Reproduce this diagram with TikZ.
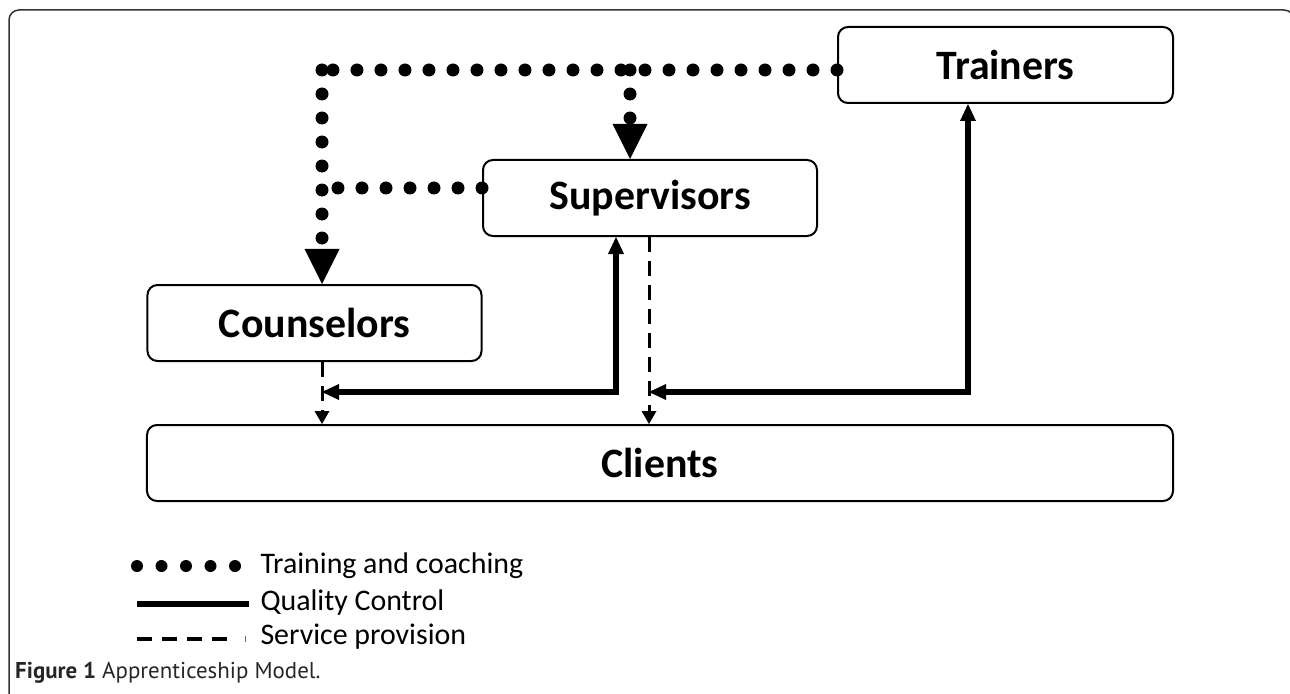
\documentclass[tikz,border=0pt]{standalone}
\usepackage{fontspec}
\setmainfont{Carlito}
\newfontfamily\capfont{PT Sans}
\usetikzlibrary{arrows.meta}
\begin{document}
\begin{tikzpicture}[x=1bp,y=-1bp,
 box/.style={draw=black,line width=2bp,rounded corners=10bp,inner sep=0pt,
   font=\fontsize{42}{50}\selectfont\bfseries},
 dotline/.style={line width=13bp,line cap=round,dash pattern=on 0bp off 24bp},
 bigtip/.style={-{Triangle[width=35bp,length=35bp,line width=0pt]}},
 qc/.style={line width=6bp,{Triangle[width=16bp,length=17bp,line width=0pt]}-{Triangle[width=16bp,length=17bp,line width=0pt]}},
 sp/.style={line width=3bp,dash pattern=on 15bp off 9bp,-{Triangle[width=15bp,length=13bp,line width=0pt]}},
 legtext/.style={anchor=west,font=\fontsize{30}{34}\selectfont},
 frame/.style={draw=black!80,line width=1.5bp,rounded corners=10bp},
]
\useasboundingbox (0,0) rectangle (1290,694);
% outer frame
\draw[frame] (9,720) -- (9,10) -- (1294,10) -- (1294,720);

% boxes
\node[box,minimum width=335bp,minimum height=76bp] (trainers) at (1005.5,65) {Trainers};
\node[box,minimum width=334bp,minimum height=76bp] (supervisors) at (650,198) {Supervisors};
\node[box,minimum width=334bp,minimum height=76bp] (counselors) at (314.5,323) {Counselors};
\node[box,minimum width=1026bp,minimum height=76bp] (clients) at (660,463) {Clients};

% helper coordinates
\coordinate (tl) at (322,70);
\coordinate (tm) at (630,70);
\coordinate (ml) at (322,188);
\coordinate (q1) at (616,392);
\coordinate (q1e) at (322,392);
\coordinate (q2) at (968,392);
\coordinate (q2e) at (649,392);

% training and coaching (dotted)
\draw[dotline] (trainers.west |- tl) -- (tl);
\draw[dotline,bigtip] (tl) -- (tl |- counselors.north);
\draw[dotline] (supervisors.west |- ml) -- (ml);
\draw[dotline,bigtip] (tm) -- (tm |- supervisors.north);

% quality control (solid)
\draw[qc] (supervisors.south -| q1) -- (q1) -- (q1e);
\draw[qc] (trainers.south -| q2) -- (q2) -- (q2e);

% service provision (dashed)
\draw[sp] (counselors.south -| q1e) -- (clients.north -| q1e);
\draw[sp] (supervisors.south -| q2e) -- (clients.north -| q2e);

% legend
\coordinate (d1a) at (137,566); \coordinate (d1b) at (237,566);
\coordinate (s1a) at (137,604); \coordinate (s1b) at (249,604);
\coordinate (p1a) at (137,639); \coordinate (p1b) at (232,639);
\draw[line width=12bp,line cap=round,dash pattern=on 0bp off 24.5bp] (d1a) -- (d1b);
\draw[line width=5.5bp] (s1a) -- (s1b);
\draw[line width=4bp,dash pattern=on 15bp off 10bp] (p1a) -- (p1b);
\coordinate (t1a) at (245,636); \coordinate (t1b) at (245,642);
\draw[line width=1bp,black!60] (t1a) -- (t1b);
\node[legtext] (lt1) at (257,566) {Training and coaching};
\node[legtext] (lt2) at (257,603) {Quality Control};
\node[legtext] (lt3) at (257,637) {Service provision};

% caption
\node[anchor=base west,inner sep=0pt,font=\capfont\fontsize{23}{26}\selectfont,text=black!85] (cap) at (15,678) {\textbf{Figure 1} Apprenticeship Model.};
\end{tikzpicture}
\end{document}
